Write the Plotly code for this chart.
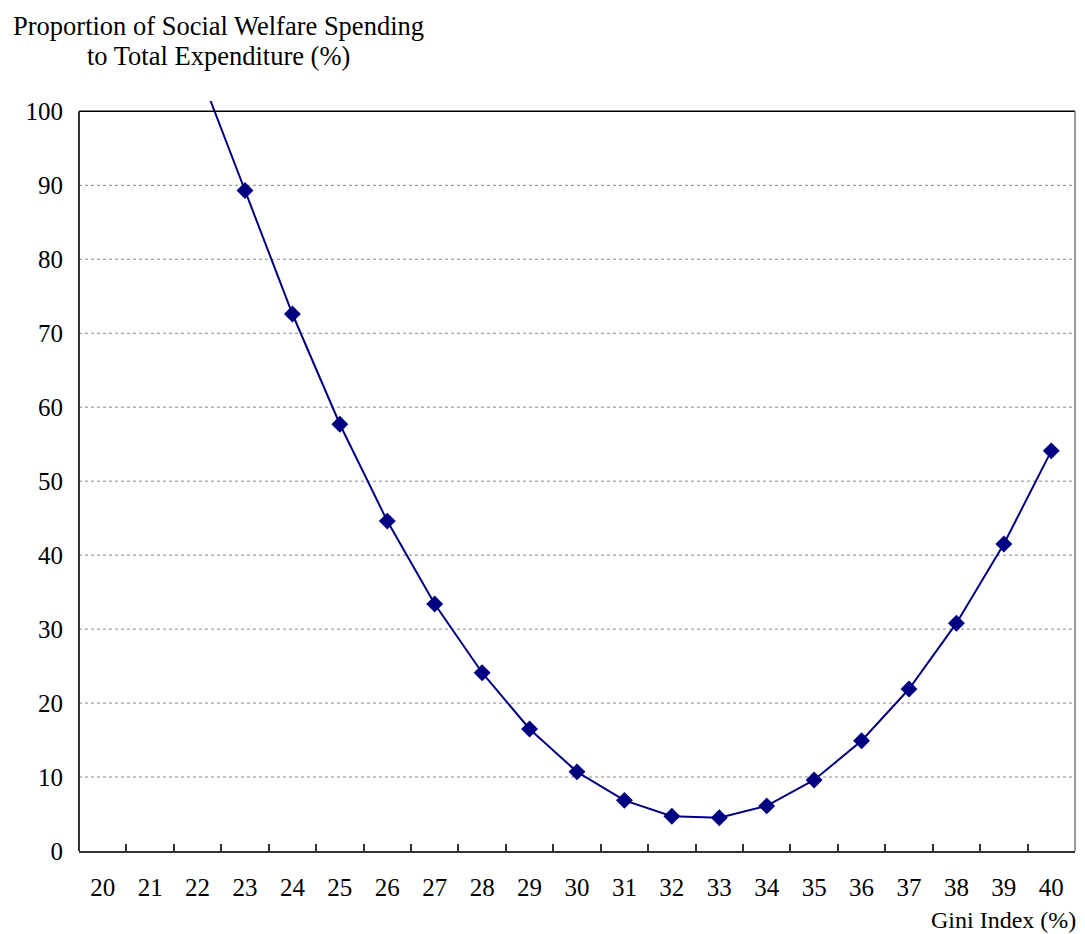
import plotly.graph_objects as go

gini = [str(v) for v in range(20, 41)]
welfare = [150.0, 128.0, 106.0, 89.3, 72.6, 57.7, 44.6, 33.4, 24.1, 16.5, 10.7,
           6.85, 4.7, 4.5, 6.1, 9.6, 14.9, 21.9, 30.8, 41.5, 54.1]
y_ticks = list(range(0, 101, 10))

NAVY = "#000080"
FONT = "Liberation Serif, Times New Roman, serif"

# page body has an 8px margin, so the figure is offset by 8px
W, H = 1077, 926
L, T, PW, PH = 71, 92.6, 996, 750.4

fig = go.Figure()
fig.add_trace(go.Scatter(
    x=gini, y=welfare, mode="lines+markers",
    line=dict(color=NAVY, width=2),
    marker=dict(symbol="diamond", size=13, color=NAVY),
    showlegend=False,
))

fig.update_layout(
    width=W, height=H,
    margin=dict(l=L, r=W - L - PW, t=T, b=H - T - PH, autoexpand=False),
    paper_bgcolor="white", plot_bgcolor="white",
    font=dict(family=FONT, size=25, color="black"),
    xaxis=dict(
        type="category", range=[-0.5, 20.5], autorange=False,
        showgrid=False, tickson="boundaries", automargin=False,
        ticks="inside", ticklen=7, tickcolor="#333", tickwidth=1.5,
        showline=True, linecolor="#333", linewidth=2,
        ticklabelstandoff=13, tickfont=dict(size=25),
    ),
    yaxis=dict(
        range=[0, 101.4], autorange=False, tickvals=y_ticks, showgrid=False,
        showline=False, ticks="", automargin=False,
        ticklabelstandoff=15, tickfont=dict(size=25), zeroline=False,
    ),
)

# dotted gridlines at 10..90
for v in y_ticks[1:-1]:
    fig.add_shape(type="line", xref="paper", yref="y", x0=0, x1=1, y0=v, y1=v,
                  line=dict(color="#888888", width=1, dash="dot"), layer="below")
# frame: top at 100, left axis, right side
fig.add_shape(type="line", xref="paper", yref="y", x0=0, x1=1, y0=100, y1=100,
              line=dict(color="black", width=1.5))
fig.add_shape(type="line", xref="paper", yref="y", x0=0, x1=0, y0=0, y1=100,
              line=dict(color="#333", width=2))
fig.add_shape(type="line", xref="paper", yref="y", x0=1, x1=1, y0=0, y1=100,
              line=dict(color="#777777", width=1.5))

title_x = (210 - L) / PW
for txt, cy in [("Proportion of Social Welfare Spending", 18),
                ("to Total Expenditure (%)", 48)]:
    fig.add_annotation(
        text=txt, xref="paper", yref="paper", x=title_x, y=1, yshift=T - cy,
        xanchor="center", yanchor="middle", showarrow=False,
        font=dict(family=FONT, size=26.5, color="black"),
    )
fig.add_annotation(
    text="Gini Index (%)", xref="paper", yref="paper", x=1, xshift=3,
    y=0, yshift=-69, xanchor="right", yanchor="middle", showarrow=False,
    font=dict(family=FONT, size=24, color="black"),
)

fig.write_html("out.html")
